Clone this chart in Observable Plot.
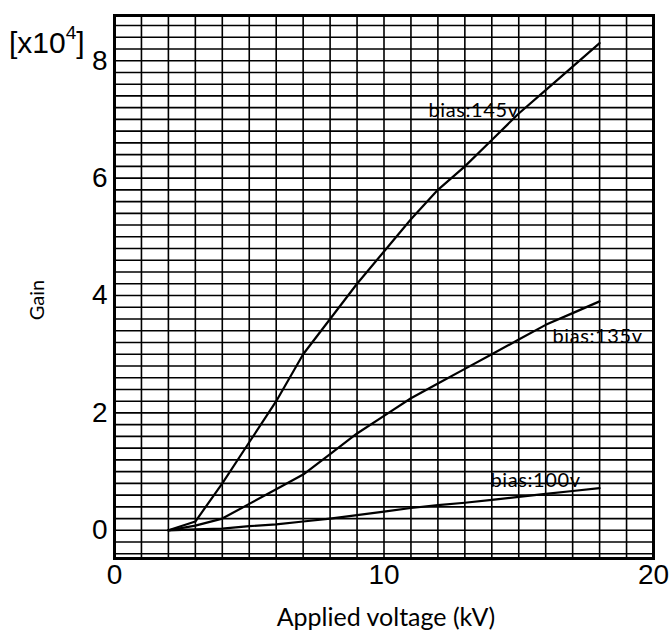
<!DOCTYPE html>
<html><head><meta charset="utf-8">
<script src="https://cdn.jsdelivr.net/npm/d3@7"></script>
<script src="https://cdn.jsdelivr.net/npm/@observablehq/plot@0.6"></script>
<style>body{margin:0;background:#fff}</style>
</head><body><div id="chart"></div>
<script>
// Data (gain in units of 10^4)
const voltage = [2,3,4,5,6,7,8,9,10,11,12,13,14,15,16,17,18];
const gain145 = [0,0.15,0.8,1.5,2.2,3.0,3.6,4.2,4.75,5.3,5.8,6.2,6.65,7.1,7.5,7.9,8.3];
const gain135 = [0,0.08,0.2,0.45,0.7,0.95,1.3,1.65,1.95,2.25,2.5,2.75,3.0,3.25,3.5,3.7,3.9];
const gain100 = [0,0.015,0.03,0.07,0.1,0.15,0.2,0.26,0.32,0.38,0.43,0.47,0.52,0.57,0.62,0.67,0.72];
const seriesNames = ["bias:145v","bias:135v","bias:100v"];
const labelX = [11.65, 16.25, 13.95];
const labelY = [7.15, 3.3, 0.84];
const xTicks = [0,10,20];
const yTicks = [0,2,4,6,8];

const seriesGains = [gain145, gain135, gain100];
const rows = seriesNames.flatMap((s,i) => voltage.map((v,j) => ({series:s, v, g: seriesGains[i][j]})));
const labels = seriesNames.map((s,i) => ({text:s, x:labelX[i], y:labelY[i]}));

const plot = Plot.plot({
  width: 670, height: 640,
  marginLeft: 114, marginRight: 17, marginTop: 15, marginBottom: 82,
  style: {fontFamily: "Liberation Sans", fontSize: "27px", background: "#fff", color: "#000"},
  x: {domain: [0,20], label: null},
  y: {domain: [-0.48, 8.77], label: null},
  marks: [
    Plot.gridX({interval: 1, stroke: "#000", strokeOpacity: 1, strokeWidth: 1.6}),
    Plot.gridY({interval: 0.2, stroke: "#000", strokeOpacity: 1, strokeWidth: 1.6}),
    Plot.frame({stroke: "#000", strokeWidth: 3}),
    Plot.axisX({ticks: xTicks, tickSize: 0, tickPadding: 6, fontSize: 28, label: null}),
    Plot.axisY({ticks: yTicks, tickSize: 0, tickPadding: 7, fontSize: 28, label: null}),
    Plot.line(rows, {x: "v", y: "g", z: "series", stroke: "#000", strokeWidth: 2.2}),
    Plot.text(labels, {x: "x", y: "y", text: "text", textAnchor: "start", fontSize: 20, fontFamily: "Lato", fill: "#000"})
  ]
});
document.getElementById("chart").append(plot);

const svg = d3.select(plot);
svg.selectAll("text").filter(function() { return this.textContent.startsWith("bias"); })
  .style("letter-spacing", "0.6px");

// axis titles
svg.append("text").attr("transform", "translate(44,300) rotate(-90)")
  .attr("text-anchor", "middle").attr("font-family", "Lato").attr("font-size", 20)
  .attr("fill", "#000").text("Gain");
svg.append("text").attr("x", 386).attr("y", 626)
  .attr("text-anchor", "middle").attr("font-family", "Lato").attr("font-size", 25)
  .attr("fill", "#000").text("Applied voltage (kV)");

// exponent label "[x10^4]"
const t = svg.append("text").attr("x", 9).attr("y", 53).attr("text-anchor", "start")
  .attr("font-family", "Liberation Sans").attr("font-size", 30).attr("fill", "#000");
t.append("tspan").text("[x10");
t.append("tspan").attr("dy", -14).attr("font-size", 19).text("4");
t.append("tspan").attr("dy", 14).text("]");
</script>
</body></html>
